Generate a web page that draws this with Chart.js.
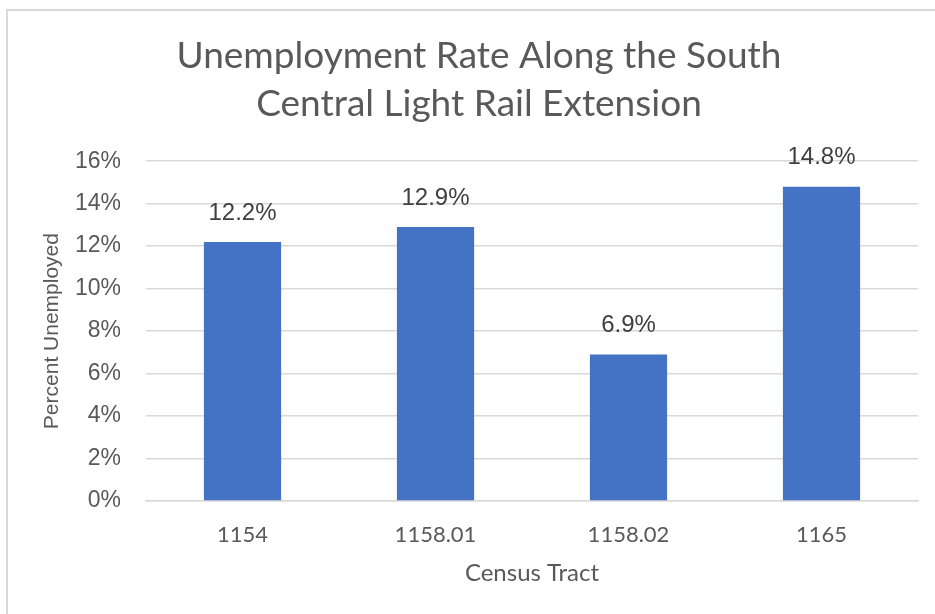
<!DOCTYPE html>
<html>
<head>
<meta charset="utf-8">
<script src="https://cdn.jsdelivr.net/npm/chart.js@4"></script>
<style>
  html, body { margin: 0; padding: 0; background: #ffffff; }
  #wrap { position: relative; width: 935px; height: 614px; }
</style>
</head>
<body>
<div id="wrap"><canvas id="c"></canvas></div>
<script>
const categories = ["1154", "1158.01", "1158.02", "1165"];
const unemployment = [12.2, 12.9, 6.9, 14.8];
const yTickValues = [0, 2, 4, 6, 8, 10, 12, 14, 16];
const titleLines = ["Unemployment Rate Along the South", "Central Light Rail Extension"];
const xTitle = "Census Tract";
const yTitle = "Percent Unemployed";

const frame = {
  id: 'frame',
  beforeDraw(chart) {
    const ctx = chart.ctx;
    ctx.save();
    ctx.fillStyle = '#ffffff';
    ctx.fillRect(0, 0, chart.width, chart.height);
    ctx.strokeStyle = '#d9d9d9';
    ctx.lineWidth = 2;
    ctx.beginPath();
    ctx.moveTo(7, chart.height);
    ctx.lineTo(7, 10);
    ctx.lineTo(chart.width, 10);
    ctx.stroke();
    ctx.restore();
  }
};

const valueLabels = {
  id: 'valueLabels',
  afterDatasetsDraw(chart) {
    const ctx = chart.ctx;
    const meta = chart.getDatasetMeta(0);
    ctx.save();
    ctx.font = '24px "Liberation Sans", Arial, sans-serif';
    ctx.fillStyle = '#404040';
    ctx.textAlign = 'center';
    ctx.textBaseline = 'middle';
    meta.data.forEach((bar, i) => {
      const v = chart.data.datasets[0].data[i];
      ctx.fillText(v.toFixed(1) + '%', bar.x, bar.y - 29);
    });
    ctx.restore();
  }
};

new Chart(document.getElementById('c'), {
  type: 'bar',
  data: {
    labels: categories,
    datasets: [{
      data: unemployment,
      backgroundColor: '#4472C4',
      borderWidth: 0,
      categoryPercentage: 1.0,
      barPercentage: 0.4
    }]
  },
  plugins: [frame, valueLabels],
  options: {
    responsive: true,
    maintainAspectRatio: false,
    animation: false,
    layout: { padding: { left: 40, right: 17, top: 0, bottom: 0 } },
    plugins: {
      legend: { display: false },
      tooltip: { enabled: false },
      title: {
        display: true,
        text: titleLines,
        color: '#595959',
        font: { family: 'Lato, "Open Sans", sans-serif', size: 37, weight: 'normal', lineHeight: 1.3 },
        padding: { top: 32, bottom: 33 }
      }
    },
    scales: {
      x: {
        grid: { display: false, drawTicks: false },
        border: { display: true, color: '#d9d9d9', width: 1.5 },
        ticks: {
          color: '#595959',
          font: { family: 'Lato, "Open Sans", sans-serif', size: 22 },
          padding: 21
        },
        title: {
          display: true,
          text: xTitle,
          color: '#595959',
          font: { family: 'Lato, "Open Sans", sans-serif', size: 24 },
          padding: { top: 0, bottom: 26 }
        },
        afterFit(scale) { scale.height = 113; }
      },
      y: {
        min: 0,
        max: 16,
        afterBuildTicks(scale) { scale.ticks = yTickValues.map(v => ({ value: v })); },
        grid: { color: '#d9d9d9', lineWidth: 1.5, drawTicks: false },
        border: { display: false },
        ticks: {
          color: '#595959',
          font: { family: '"Liberation Sans", Arial, sans-serif', size: 23 },
          padding: 25,
          callback: v => v + '%'
        },
        title: {
          display: true,
          text: yTitle,
          color: '#595959',
          font: { family: '"Liberation Sans", Arial, sans-serif', size: 21 },
          padding: { top: 0, bottom: 0 }
        },
        afterFit(scale) { scale.width = 106; }
      }
    }
  }
});
</script>
</body>
</html>
